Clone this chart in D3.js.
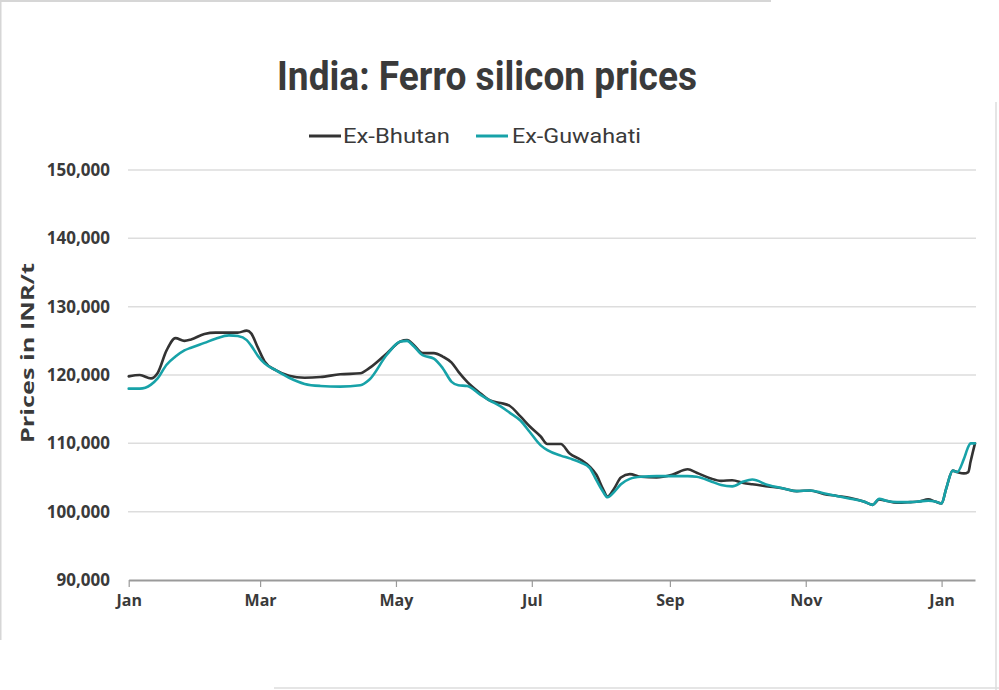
<!DOCTYPE html>
<html>
<head>
<meta charset="utf-8">
<script src="https://cdn.jsdelivr.net/npm/d3@7"></script>
<style>
  html, body { margin: 0; padding: 0; background: #fff; }
  svg { display: block; }
</style>
</head>
<body>
<svg id="chart" width="999" height="690"></svg>
<script>
const titleText = "India: Ferro silicon prices";
const seriesNames = ["Ex-Bhutan", "Ex-Guwahati"];
const yAxisTitle = "Prices in INR/t";
const yTicks = [90000, 100000, 110000, 120000, 130000, 140000, 150000];

const dates = [
  "2018-01-01","2018-01-06","2018-01-11","2018-01-14","2018-01-18","2018-01-22","2018-01-26","2018-01-29",
  "2018-02-04","2018-02-09","2018-02-15","2018-02-19","2018-02-23","2018-02-25","2018-02-28",
  "2018-03-03","2018-03-08","2018-03-14","2018-03-21","2018-03-28",
  "2018-04-06","2018-04-15","2018-04-19","2018-04-27",
  "2018-05-03","2018-05-06","2018-05-09","2018-05-13","2018-05-18","2018-05-22","2018-05-26","2018-05-29",
  "2018-06-02","2018-06-08","2018-06-12","2018-06-17","2018-06-21","2018-06-26","2018-06-30",
  "2018-07-05","2018-07-08","2018-07-14","2018-07-18","2018-07-23","2018-07-27","2018-07-30",
  "2018-08-02","2018-08-04","2018-08-07","2018-08-10","2018-08-14","2018-08-19","2018-08-26",
  "2018-09-02","2018-09-09","2018-09-13","2018-09-19","2018-09-24","2018-09-29",
  "2018-10-04","2018-10-08","2018-10-15","2018-10-22","2018-10-28",
  "2018-11-03","2018-11-09","2018-11-15","2018-11-21","2018-11-27",
  "2018-12-01","2018-12-04","2018-12-07","2018-12-12","2018-12-18","2018-12-22","2018-12-26","2018-12-29",
  "2019-01-01","2019-01-03","2019-01-06","2019-01-08","2019-01-11","2019-01-13","2019-01-14","2019-01-16"
];

const bhutan = [
  119800,120000,119500,120300,123600,125400,125000,125200,
  126000,126200,126200,126200,126500,126100,124000,
  122000,120700,119900,119600,119700,
  120100,120250,121000,123200,
  124900,125100,124400,123200,123200,122700,121800,120500,
  119000,117300,116300,115900,115500,113900,112500,
  111000,109900,109900,108500,107600,106600,105400,
  103300,102200,103400,105000,105500,105100,105000,
  105400,106200,105700,104900,104500,104600,
  104200,104000,103700,103400,103000,
  103100,102600,102300,102000,101500,
  101000,101800,101600,101300,101400,101500,101800,101500,
  101200,103300,106000,105800,105600,105800,107300,110000
];

const guwahati = [
  118000,118000,118600,119500,121500,122700,123600,124000,
  124700,125300,125800,125700,125100,124300,122800,
  121700,120700,119600,118700,118400,
  118300,118500,119300,123000,
  124900,125000,124200,122900,122400,121000,119000,118500,
  118400,117100,116300,115400,114500,113300,111700,
  109700,109000,108200,107800,107200,106400,104600,
  102900,102100,102900,104000,104800,105100,105200,
  105200,105200,105100,104500,103900,103700,
  104400,104700,103900,103400,103000,
  103100,102700,102300,101900,101500,
  101000,101900,101600,101400,101400,101500,101600,101500,
  101200,103300,106000,105800,107700,109500,110000,110000
];

const parse = d3.timeParse("%Y-%m-%d");
const dateObjs = dates.map(parse);
const seriesData = [
  { name: seriesNames[0], values: bhutan, color: "#333333" },
  { name: seriesNames[1], values: guwahati, color: "#17a2a8" }
];

const svg = d3.select("#chart");
const textColor = "#3a3a3a";

// frame decorations seen in the picture
svg.append("line").attr("x1", 0.5).attr("x2", 0.5).attr("y1", 0).attr("y2", 640).attr("stroke", "#d6d6d6").attr("stroke-width", 2);
svg.append("line").attr("x1", 0).attr("x2", 771).attr("y1", 1).attr("y2", 1).attr("stroke", "#d6d6d6").attr("stroke-width", 2);
svg.append("line").attr("x1", 996).attr("x2", 996).attr("y1", 102).attr("y2", 690).attr("stroke", "#dcdcdc").attr("stroke-width", 1.5);
svg.append("line").attr("x1", 274).attr("x2", 999).attr("y1", 688).attr("y2", 688).attr("stroke", "#dcdcdc").attr("stroke-width", 1.5);

const x = d3.scaleTime()
  .domain([parse("2018-01-01"), parse("2019-01-16")])
  .range([128.7, 975]);
const y = d3.scaleLinear()
  .domain([90000, 150000])
  .range([580, 170]);

// Title
svg.append("text")
  .attr("x", 487).attr("y", 90)
  .attr("text-anchor", "middle")
  .attr("font-family", "Roboto, 'Open Sans', sans-serif")
  .attr("font-weight", 700)
  .attr("font-size", 40)
  .attr("fill", textColor)
  .attr("textLength", 420)
  .attr("lengthAdjust", "spacingAndGlyphs")
  .text(titleText);

// Legend
const legendItems = [
  { name: seriesNames[0], color: seriesData[0].color, x1: 309, tx: 343, tw: 107 },
  { name: seriesNames[1], color: seriesData[1].color, x1: 476, tx: 512, tw: 129 }
];
const lg = svg.append("g");
legendItems.forEach(it => {
  lg.append("line").attr("x1", it.x1).attr("x2", it.x1 + 32).attr("y1", 136).attr("y2", 136)
    .attr("stroke", it.color).attr("stroke-width", 3);
  lg.append("text").attr("x", it.tx).attr("y", 143)
    .attr("font-family", "Roboto, 'Open Sans', sans-serif")
    .attr("font-size", 20).attr("fill", textColor)
    .attr("textLength", it.tw).attr("lengthAdjust", "spacingAndGlyphs")
    .text(it.name);
});

// Gridlines
const grid = svg.append("g");
grid.selectAll("line").data(yTicks.filter(t => t !== 90000)).join("line")
  .attr("x1", 128).attr("x2", 976)
  .attr("y1", d => y(d)).attr("y2", d => y(d))
  .attr("stroke", "#dddddd").attr("stroke-width", 1.5);

// Y axis labels
const fmt = d3.format(",");
const yAxis = d3.axisLeft(y).tickValues(yTicks).tickSize(0).tickPadding(18).tickFormat(fmt);
const yg = svg.append("g").attr("transform", "translate(128,0)").call(yAxis);
yg.select(".domain").remove();
yg.selectAll("text")
  .attr("font-family", "'Open Sans', sans-serif")
  .attr("font-weight", 700)
  .attr("font-size", 17)
  .attr("fill", textColor);

// Y axis title
svg.append("text")
  .attr("transform", "translate(34,353) rotate(-90)")
  .attr("text-anchor", "middle")
  .attr("font-family", "'Open Sans', sans-serif")
  .attr("font-weight", 700)
  .attr("font-size", 17)
  .attr("fill", textColor)
  .attr("textLength", 180).attr("lengthAdjust", "spacingAndGlyphs")
  .text(yAxisTitle);

// X axis
const xAxis = d3.axisBottom(x)
  .ticks(d3.timeMonth.every(2))
  .tickFormat(d3.timeFormat("%b"))
  .tickSize(7).tickSizeOuter(0).tickPadding(8);
const xg = svg.append("g").attr("transform", "translate(0,580)").call(xAxis);
xg.select(".domain").attr("stroke", "#9a9a9a").attr("stroke-width", 2);
xg.selectAll(".tick line").attr("stroke", "#9a9a9a").attr("stroke-width", 1.2);
xg.selectAll("text")
  .attr("font-family", "'Open Sans', sans-serif")
  .attr("font-weight", 700)
  .attr("font-size", 16)
  .attr("fill", textColor);

// Lines
const line = d3.line()
  .x((d, i) => x(dateObjs[i]))
  .y(d => y(d))
  .curve(d3.curveMonotoneX);

svg.append("g").selectAll("path").data(seriesData).join("path")
  .attr("d", d => line(d.values))
  .attr("fill", "none")
  .attr("stroke", d => d.color)
  .attr("stroke-width", 2.6)
  .attr("stroke-linejoin", "round")
  .attr("stroke-linecap", "round");
</script>
</body>
</html>
